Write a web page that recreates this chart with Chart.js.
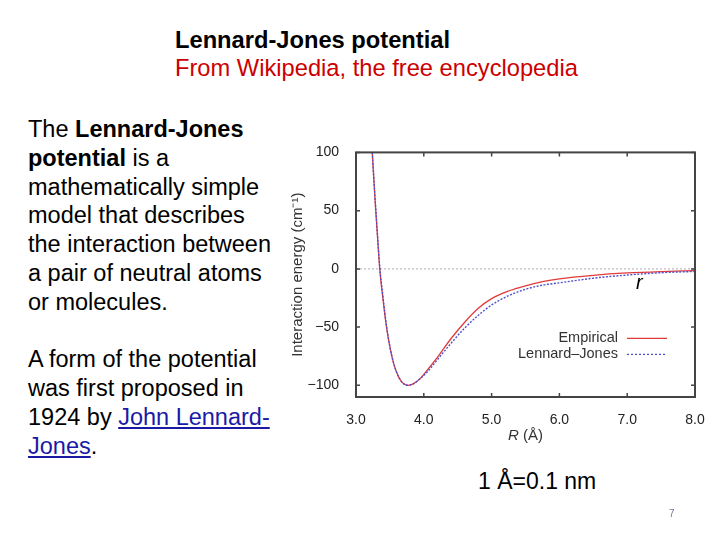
<!DOCTYPE html>
<html>
<head>
<meta charset="utf-8">
<script src="https://cdn.jsdelivr.net/npm/chart.js@4.4.1/dist/chart.umd.min.js"></script>
<style>
  html, body { margin:0; padding:0; background:#fff; }
  body { width:720px; height:540px; position:relative; overflow:hidden; font-family:"Liberation Sans", Arial, sans-serif; }
  .head { position:absolute; left:175px; top:26px; font-size:23.7px; line-height:28px; white-space:nowrap; }
  .head .src { color:#cc0000; }
  .text { position:absolute; left:28px; top:115px; font-size:23.5px; line-height:28.8px; color:#000; white-space:nowrap; }
  .text a { color:#1a1aa6; text-decoration:underline; }
  #wrap { position:absolute; left:285px; top:135px; width:430px; height:310px; }
  .r { position:absolute; left:636px; top:271px; font-size:20px; font-style:italic; }
  .unit { position:absolute; left:478px; top:468px; font-size:23px; }
  .page { position:absolute; left:669px; top:508px; font-size:10px; color:#6b7a99; }
</style>
</head>
<body>
<div class="head"><b>Lennard-Jones potential</b><br><span class="src">From Wikipedia, the free encyclopedia</span></div>
<div class="text">
The <b>Lennard-Jones</b><br>
<b>potential</b> is a<br>
mathematically simple<br>
model that describes<br>
the interaction between<br>
a pair of neutral atoms<br>
or molecules.<br>
<br>
A form of the potential<br>
was first proposed in<br>
1924 by <a href="#">John Lennard-</a><br>
<a href="#">Jones</a>.
</div>
<div id="wrap"><canvas id="ljChart"></canvas></div>
<span class="r">r</span>
<div class="unit">1 Å=0.1 nm</div>
<div class="page">7</div>

<script>
// 読み取った値 (R in Å, energy in cm-1)
var rEmp = [3.24, 3.28, 3.32, 3.35, 3.40, 3.45, 3.50, 3.55, 3.60, 3.65, 3.70, 3.77, 3.85, 3.95, 4.05, 4.2, 4.4, 4.6, 4.8, 5.0, 5.25, 5.5, 5.75, 6.0, 6.5, 7.0, 7.5, 8.0];
var vEmp = [100, 60, 25, 0, -27, -50, -67, -80, -89, -95, -98.5, -100, -98.5, -94, -87, -76, -60, -46, -34, -25.5, -19, -14.5, -11, -8.5, -5.5, -3.5, -2.3, -1.5];
var rLJ  = [3.24, 3.28, 3.32, 3.35, 3.40, 3.45, 3.50, 3.55, 3.60, 3.65, 3.70, 3.77, 3.85, 3.95, 4.05, 4.2, 4.4, 4.6, 4.8, 5.0, 5.25, 5.5, 5.75, 6.0, 6.5, 7.0, 7.5, 8.0];
var vLJ  = [100, 62, 27, 2, -25, -49, -67, -80, -89, -95, -98.5, -100, -98.5, -94, -88.5, -78, -64, -51, -40, -31, -23, -17.5, -14, -12, -8, -5.3, -3.3, -2.2];
var seriesNames = ["Empirical", "Lennard\u2013Jones"];
var xTicks = [3, 4, 5, 6, 7, 8];
var yTicks = [-100, -50, 0, 50, 100];

var RED = "#e23a3a";
var BLUE = "#5050cc";
var FONT = "'Liberation Sans', Arial, sans-serif";

// 枠・内向き目盛り・凡例
var framePlugin = {
  id: "frame",
  beforeDatasetsDraw: function (chart) {
    var a = chart.chartArea, ctx = chart.ctx, y0 = chart.scales.y.getPixelForValue(0);
    ctx.save();
    ctx.strokeStyle = "#b0b0b0";
    ctx.lineWidth = 1;
    ctx.setLineDash([2, 2]);
    ctx.beginPath();
    ctx.moveTo(a.left, y0);
    ctx.lineTo(a.right, y0);
    ctx.stroke();
    ctx.restore();
  },
  afterDatasetsDraw: function (chart) {
    var a = chart.chartArea, ctx = chart.ctx, sx = chart.scales.x, sy = chart.scales.y;
    ctx.save();
    ctx.strokeStyle = "#444";
    ctx.lineWidth = 2;
    ctx.strokeRect(a.left, a.top, a.right - a.left, a.bottom - a.top);
    ctx.lineWidth = 1.5;
    ctx.beginPath();
    xTicks.forEach(function (v) {
      var px = sx.getPixelForValue(v);
      ctx.moveTo(px, a.bottom); ctx.lineTo(px, a.bottom - 4);
      ctx.moveTo(px, a.top); ctx.lineTo(px, a.top + 4);
    });
    yTicks.forEach(function (v) {
      var py = sy.getPixelForValue(v);
      ctx.moveTo(a.left, py); ctx.lineTo(a.left + 4, py);
      ctx.moveTo(a.right, py); ctx.lineTo(a.right - 4, py);
    });
    ctx.stroke();

    // legend
    ctx.font = "14.5px " + FONT;
    ctx.fillStyle = "#333";
    ctx.textAlign = "right";
    ctx.textBaseline = "middle";
    var lx = a.left + 262, ly = a.top + 186;
    ctx.fillText(seriesNames[0], lx, ly);
    ctx.fillText(seriesNames[1], lx, ly + 16);
    ctx.lineWidth = 1.3;
    ctx.strokeStyle = RED;
    ctx.beginPath(); ctx.moveTo(lx + 9, ly); ctx.lineTo(lx + 49, ly); ctx.stroke();
    ctx.strokeStyle = BLUE;
    ctx.setLineDash([2, 2]);
    ctx.beginPath(); ctx.moveTo(lx + 9, ly + 16); ctx.lineTo(lx + 49, ly + 16); ctx.stroke();
    ctx.setLineDash([]);

    // x axis title with italic R
    ctx.fillStyle = "#333";
    ctx.textAlign = "left";
    var cx = (a.left + a.right) / 2, ty = a.bottom + 39;
    ctx.font = "italic 15px " + FONT;
    var w1 = ctx.measureText("R").width;
    ctx.font = "15px " + FONT;
    var w2 = ctx.measureText(" (Å)").width;
    var sx0 = cx - (w1 + w2) / 2;
    ctx.font = "italic 15px " + FONT;
    ctx.fillText("R", sx0, ty);
    ctx.font = "15px " + FONT;
    ctx.fillText(" (Å)", sx0 + w1, ty);
    ctx.restore();
  }
};

function toPoints(xs, ys) {
  return xs.map(function (x, i) { return { x: x, y: ys[i] }; });
}

var ctx = document.getElementById("ljChart");
var chart = new Chart(ctx, {
  type: "line",
  data: {
    datasets: [
      {
        label: seriesNames[1],
        data: toPoints(rLJ, vLJ),
        borderColor: BLUE,
        borderWidth: 1.4,
        borderDash: [2, 1.5],
        pointRadius: 0,
        cubicInterpolationMode: "monotone"
      },
      {
        label: seriesNames[0],
        data: toPoints(rEmp, vEmp),
        borderColor: RED,
        borderWidth: 1.3,
        pointRadius: 0,
        cubicInterpolationMode: "monotone"
      }
    ]
  },
  options: {
    responsive: true,
    maintainAspectRatio: false,
    animation: false,
    layout: { padding: { top: 15, right: 20, left: 0, bottom: 0 } },
    plugins: { legend: { display: false }, tooltip: { enabled: false } },
    scales: {
      x: {
        type: "linear",
        min: 3, max: 8,
        afterFit: function (s) { s.height = 48; },
        afterBuildTicks: function (s) { s.ticks = xTicks.map(function (v) { return { value: v }; }); },
        grid: { display: false },
        border: { display: false },
        ticks: {
          padding: 7,
          color: "#222",
          font: { size: 14, family: FONT },
          callback: function (v) { return Number(v).toFixed(1); }
        }
      },
      y: {
        min: -110, max: 100,
        afterFit: function (s) { s.width = 71; },
        afterBuildTicks: function (s) { s.ticks = yTicks.map(function (v) { return { value: v }; }); },
        grid: { display: false },
        border: { display: false },
        title: {
          display: true,
          text: "Interaction energy (cm\u207B\u00B9)",
          color: "#333",
          padding: { top: 4, bottom: 0 },
          font: { size: 15, family: FONT }
        },
        ticks: {
          padding: 9,
          color: "#222",
          font: { size: 14, family: FONT },
          callback: function (v) { return v < 0 ? "\u2212" + Math.abs(v) : String(v); }
        }
      }
    }
  },
  plugins: [framePlugin]
});
</script>
</body>
</html>
